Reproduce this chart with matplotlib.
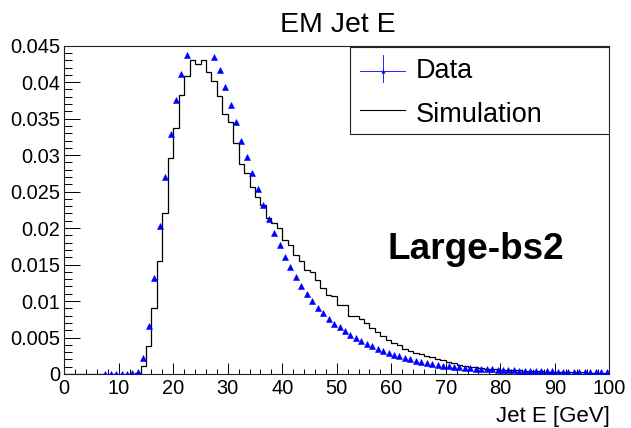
import numpy as np
import matplotlib
matplotlib.use('Agg')
import matplotlib.pyplot as plt
from matplotlib.patches import Rectangle
from matplotlib.lines import Line2D
from matplotlib.ticker import MultipleLocator

plt.rcParams['font.family'] = ['Liberation Sans', 'DejaVu Sans']

# bin edges: 100 bins of 1 GeV from 0 to 100
bin_edges = np.arange(0, 101, 1)

# data (blue triangles), bins 7..99
data_first_bin = 7
data_values = [
    0.00002, 0.00002, 0.00002, 0.00002, 0.00004, 0.0001, 0.0003, 0.00215, 0.0066, 0.0131,   # 7-16
    0.0203, 0.0270, 0.0329, 0.0375, 0.0411, 0.0437, 0.0460, 0.0468, 0.0469, 0.0461,         # 17-26
    0.0435, 0.0417, 0.0394, 0.0369, 0.0345, 0.0320, 0.0297, 0.0275, 0.0253, 0.0231,         # 27-36
    0.0212, 0.0193, 0.0177, 0.0160, 0.0146, 0.01325, 0.0121, 0.01096, 0.01005, 0.0091,      # 37-46
    0.0083, 0.0075, 0.00685, 0.0064, 0.00585, 0.00535, 0.0049, 0.0045, 0.00415, 0.0038,     # 47-56
    0.00347, 0.00315, 0.00288, 0.00265, 0.00243, 0.0022, 0.00205, 0.00183, 0.00169, 0.00151,  # 57-66
    0.00137, 0.00123, 0.00114, 0.00105, 0.00096, 0.0009, 0.00085, 0.0008, 0.00073, 0.0007,  # 67-76
    0.00066, 0.00062, 0.00058, 0.00055, 0.00052, 0.0005, 0.00047, 0.00045, 0.00043, 0.0004,  # 77-86
    0.00039, 0.00037, 0.00035, 0.00034, 0.00032, 0.00031, 0.0003, 0.00028, 0.00027, 0.00026,  # 87-96
    0.00025, 0.00024, 0.00023,                                                               # 97-99
]

# simulation (black step histogram), bins 0..99
sim_values = [
    0, 0, 0, 0, 0, 0, 0, 0, 0, 0,                                                            # 0-9
    0, 0, 0.00005, 0.0002, 0.0011, 0.0038, 0.0090, 0.0155, 0.0220, 0.0296,                   # 10-19
    0.0337, 0.0383, 0.0408, 0.0430, 0.0425, 0.0430, 0.0414, 0.0401, 0.0381, 0.0357,          # 20-29
    0.0345, 0.0317, 0.0288, 0.0275, 0.0256, 0.0243, 0.0231, 0.0214, 0.0207, 0.0200,          # 30-39
    0.0184, 0.0177, 0.0163, 0.0155, 0.0143, 0.0140, 0.0129, 0.0118, 0.0108, 0.0107,          # 40-49
    0.0095, 0.0094, 0.0080, 0.0080, 0.0075, 0.0070, 0.0063, 0.0058, 0.0052, 0.0047,          # 50-59
    0.0042, 0.0040, 0.0034, 0.0032, 0.0029, 0.00274, 0.0025, 0.0023, 0.0021, 0.0019,         # 60-69
    0.0017, 0.0015, 0.0013, 0.00115, 0.001, 0.0009, 0.0008, 0.00075, 0.0007, 0.00065,        # 70-79
    0.0006, 0.00056, 0.00052, 0.00048, 0.00045, 0.00042, 0.00039, 0.00036, 0.00034, 0.00032,  # 80-89
    0.0003, 0.00028, 0.00026, 0.00025, 0.00023, 0.00022, 0.0002, 0.00019, 0.00018, 0.00017,  # 90-99
]

y_ticks = [0, 0.005, 0.01, 0.015, 0.02, 0.025, 0.03, 0.035, 0.04, 0.045]
y_tick_labels = ['0', '0.005', '0.01', '0.015', '0.02', '0.025', '0.03', '0.035', '0.04', '0.045']
x_ticks = [0, 10, 20, 30, 40, 50, 60, 70, 80, 90, 100]

fig = plt.figure(figsize=(6.31, 4.28), dpi=100)
ax = fig.add_axes([0.1019, 0.1262, 0.8637, 0.7671])

centers = (bin_edges[:-1] + bin_edges[1:]) / 2
ax.stairs(sim_values, bin_edges, color='black', lw=0.9, zorder=3)
ax.plot(centers[data_first_bin:], data_values, linestyle='none', marker='^',
        color=(0, 0, 1), ms=4.4, mew=0.4, zorder=4)

ax.set_xlim(0, 100)
ax.set_ylim(0, 0.045)
ax.set_xticks(x_ticks)
ax.set_xticklabels([str(t) for t in x_ticks])
ax.set_yticks(y_ticks)
ax.set_yticklabels(y_tick_labels)
ax.xaxis.set_minor_locator(MultipleLocator(2))
ax.yaxis.set_minor_locator(MultipleLocator(0.001))
ax.tick_params(axis='x', which='major', direction='in', length=7.7, width=0.7,
               labelsize=14.4, pad=3.6, top=False)
ax.tick_params(axis='x', which='minor', direction='in', length=3.8, width=0.7, top=False)
ax.tick_params(axis='y', which='major', direction='in', length=11.8, width=0.7,
               labelsize=14.4, pad=3.1, right=False)
ax.tick_params(axis='y', which='minor', direction='in', length=5.9, width=0.7, right=False)
for s in ax.spines.values():
    s.set_linewidth(0.8)
    s.set_color('#222222')

# legend box drawn by hand (ROOT style)
ax.add_patch(Rectangle((0.5242, 0.7301), 0.4758, 0.2650, transform=ax.transAxes,
                       facecolor='white', edgecolor='#222222', lw=0.8, zorder=5))
ax.add_line(Line2D([0.5426, 0.6251], [0.9229, 0.9229], transform=ax.transAxes,
                   color=(0, 0, 1), lw=0.6, zorder=6))
ax.add_line(Line2D([0.5839, 0.5839], [0.8904, 0.9717], transform=ax.transAxes,
                   color=(0, 0, 1), lw=0.6, zorder=6))
ax.add_line(Line2D([0.5839], [0.9229], transform=ax.transAxes, marker='^',
                   color=(0, 0, 1), ms=3, mew=0, zorder=7))
ax.add_line(Line2D([0.5426, 0.6251], [0.8041, 0.8041], transform=ax.transAxes,
                   color='black', lw=0.8, zorder=6))
ax.text(0.6453, 0.9007, 'Data', transform=ax.transAxes, fontsize=19.5,
        ha='left', va='baseline', zorder=7)
ax.text(0.6453, 0.7685, 'Simulation', transform=ax.transAxes, fontsize=19.5,
        ha='left', va='baseline', zorder=7)

ax.text(0.755, 0.349, 'Large-bs2', transform=ax.transAxes, fontsize=26.6,
        fontweight='bold', ha='center', va='baseline')

fig.text(0.5353, 0.9259, 'EM Jet E', fontsize=20.5, ha='center', va='baseline')
fig.text(0.9667, 0.0147, 'Jet E [GeV]', fontsize=16, ha='right', va='baseline')

fig.savefig('out.png', dpi=100)
